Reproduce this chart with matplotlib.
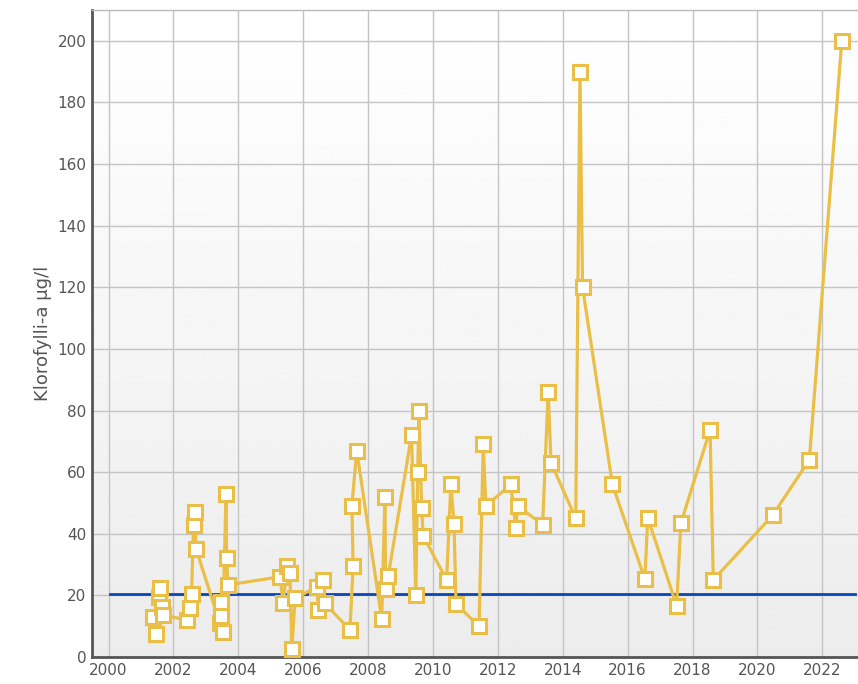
import matplotlib.pyplot as plt
import numpy as np

# sample dates (decimal years) and chlorophyll-a values
years = [2001.38, 2001.45, 2001.55, 2001.59, 2001.66, 2001.69,
         2002.41, 2002.51, 2002.56, 2002.62, 2002.66, 2002.70,
         2003.43, 2003.46, 2003.48, 2003.52, 2003.62, 2003.64, 2003.68,
         2005.28, 2005.39, 2005.49, 2005.59, 2005.65, 2005.75,
         2006.42, 2006.47, 2006.62, 2006.67,
         2007.44, 2007.54, 2007.50, 2007.65,
         2008.42, 2008.52, 2008.54, 2008.62,
         2009.34, 2009.47, 2009.53, 2009.57, 2009.65, 2009.70,
         2010.42, 2010.55, 2010.65, 2010.71,
         2011.42, 2011.55, 2011.63,
         2012.40, 2012.55, 2012.61,
         2013.38, 2013.55, 2013.64,
         2014.40, 2014.53, 2014.61,
         2015.53, 2016.53, 2016.62, 2017.51, 2017.64,
         2018.54, 2018.64, 2020.47, 2021.60, 2022.60]
values = [13, 7.5, 19.6, 22.3, 16.3, 13.6,
          12, 16, 20.5, 43, 47, 35,
          11, 18, 13.4, 8, 53, 32, 23.4,
          26, 17.4, 29.5, 27.2, 2.5, 19,
          22.8, 15.3, 25, 17.4,
          8.8, 29.5, 49, 67,
          12.3, 52, 22, 26.3,
          72, 20, 60, 80, 48.3, 39.3,
          25, 56, 43.1, 17.2,
          10, 69, 49,
          56, 42, 49,
          43, 86, 63,
          45, 190, 120,
          56, 25.3, 45.2, 16.6, 43.4,
          73.7, 25, 46, 64, 200]

limit_value = 20.5
limit_years = [2000.05, 2023.0]

yticks = list(range(0, 201, 20))
xticks = list(range(2000, 2023, 2))

fig = plt.figure(figsize=(8.58, 6.84), dpi=100)
ax = fig.add_axes([0.1072, 0.0395, 0.8928, 0.9459])

# light gradient background
grad = np.linspace(0.925, 1.0, 256).reshape(-1, 1)
ax.imshow(grad, cmap="gray", vmin=0, vmax=1, aspect="auto",
          extent=[0, 1, 0, 1], transform=ax.transAxes, origin="lower", zorder=0)

ax.plot(years, values, color="#eabf47", lw=2.3, marker="s", ms=9.8,
        mfc="white", mec="#eabf47", mew=2.2, zorder=3, solid_joinstyle="round")
ax.plot(limit_years, [limit_value, limit_value], color="#0b46b8", lw=2, zorder=2)

ax.set_xlim(1999.49, 2023.1)
ax.set_ylim(0, 210)
ax.set_xticks(xticks)
ax.set_yticks(yticks)
ax.grid(True, color="#c4c4c4", lw=1)
ax.set_axisbelow(True)
ax.tick_params(length=0, labelsize=11, colors="#555555", pad=4)
ax.set_ylabel("Klorofylli-a µg/l", fontsize=13, color="#555555", labelpad=4)

for side in ["left", "bottom"]:
    ax.spines[side].set_color("#555555")
    ax.spines[side].set_linewidth(2)
ax.spines["top"].set_color("#bbbbbb")
ax.spines["top"].set_linewidth(1)
ax.spines["right"].set_visible(False)

plt.savefig("out.png", dpi=100)
